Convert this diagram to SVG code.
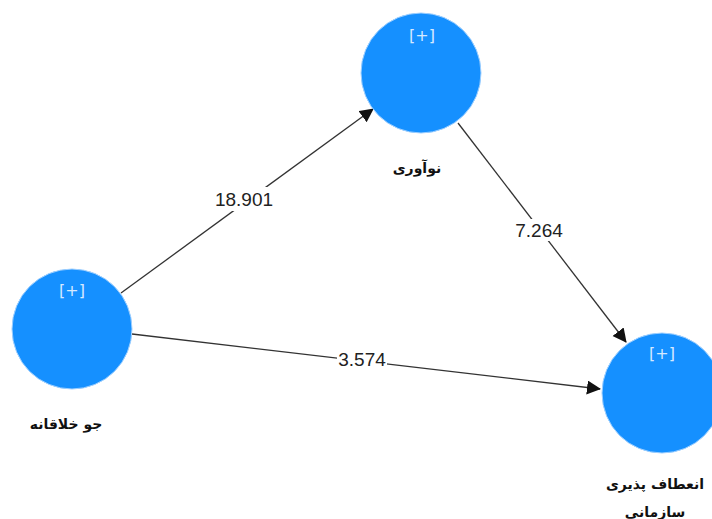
<svg xmlns="http://www.w3.org/2000/svg" width="712" height="519" viewBox="0 0 712 519">
<style>
.c{fill:#1590ff;stroke:#9fd0ff;stroke-width:1}
.p{font:16px "DejaVu Sans",sans-serif;fill:#d5e9ff;text-anchor:middle}
.n{font:bold 14px "DejaVu Sans",sans-serif;fill:#111;text-anchor:middle}
.e{stroke:#333;stroke-width:1.3;fill:none;marker-end:url(#a)}
.v{font:19px "Liberation Sans",sans-serif;fill:#222;text-anchor:middle}
.b{fill:#fff}
</style>
<defs><marker id="a" markerUnits="userSpaceOnUse" markerWidth="16" markerHeight="16" refX="13" refY="7" orient="auto"><path d="M0 0L14 7L0 14Z" fill="#111"/></marker></defs>
<rect width="712" height="519" fill="#fff"/>
<g id="connectors">
<path class="e" d="M121 293L373 109"/>
<path class="e" d="M132 334L600 389"/>
<path class="e" d="M458 123L626 342"/>
<rect class="b" x="214" y="187" width="60" height="24"/><text class="v" x="244" y="206">18.901</text>
<rect class="b" x="337" y="348" width="50" height="22"/><text class="v" x="362" y="366">3.574</text>
<rect class="b" x="514" y="219" width="50" height="22"/><text class="v" x="539" y="237">7.264</text>
</g>
<g id="node-innovation"><circle class="c" cx="421" cy="73" r="60"/><text class="p" x="422" y="41">[+]</text><text class="n" x="417" y="173">نوآوری</text></g>
<g id="node-climate"><circle class="c" cx="72" cy="329" r="60"/><text class="p" x="72" y="296">[+]</text><text class="n" x="66" y="429">جو خلاقانه</text></g>
<g id="node-agility"><circle class="c" cx="662" cy="393" r="60"/><text class="p" x="662" y="359">[+]</text><text class="n" x="655" y="489">انعطاف پذیری</text><text class="n" x="655" y="517">سازمانی</text></g>
</svg>
